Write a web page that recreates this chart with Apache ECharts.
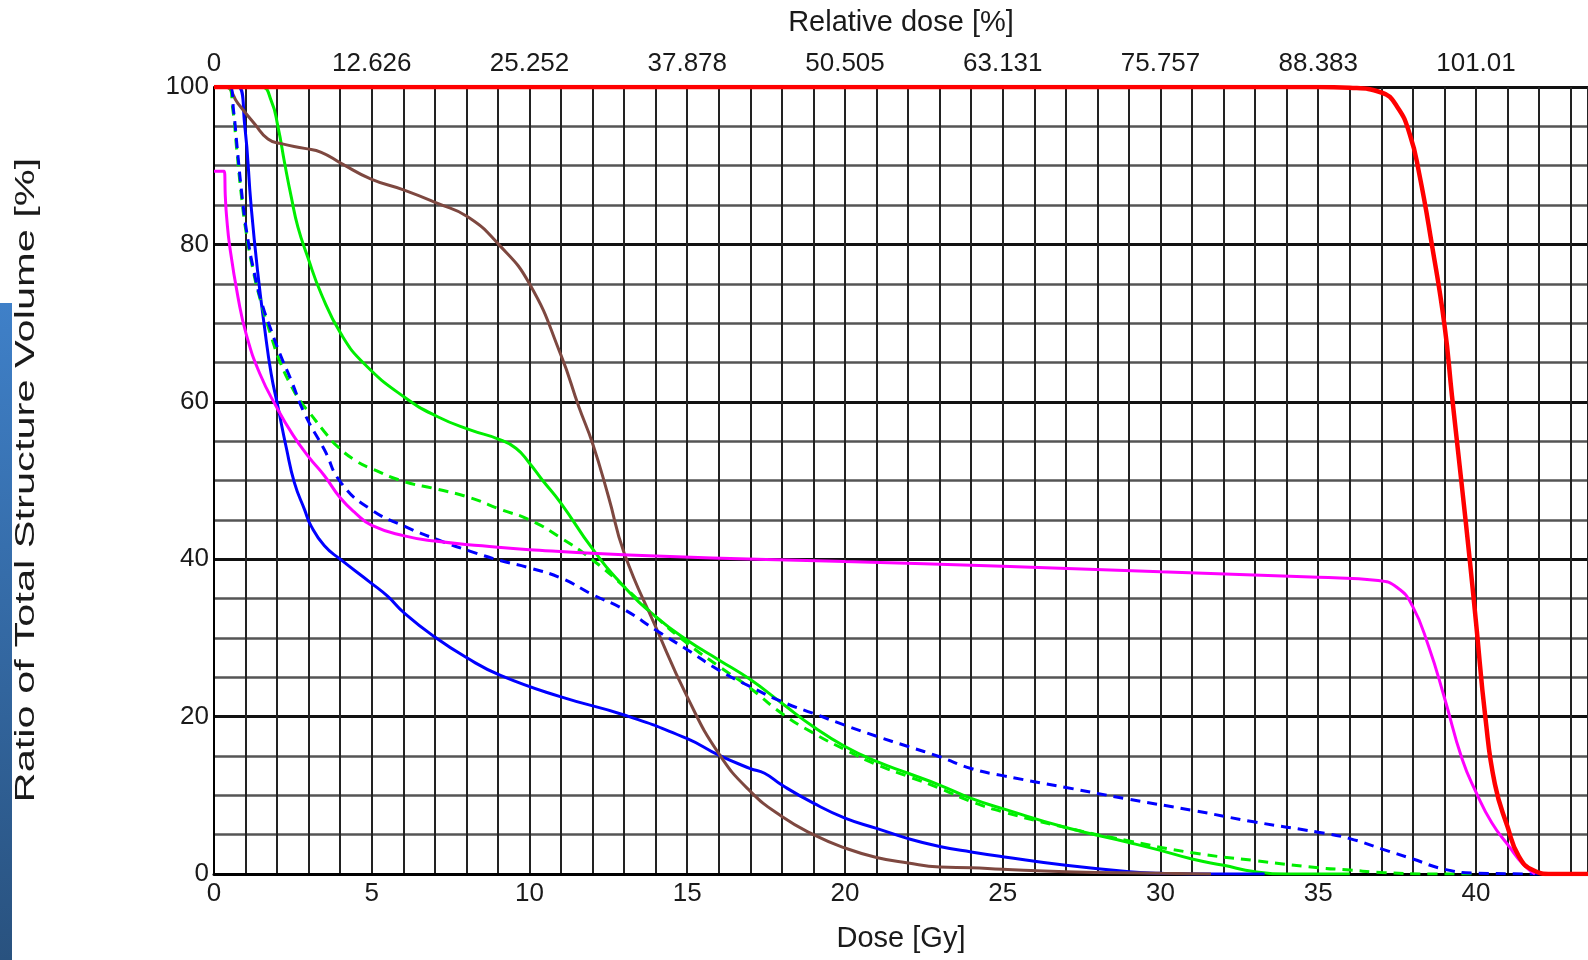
<!DOCTYPE html>
<html>
<head>
<meta charset="utf-8">
<script src="https://cdn.jsdelivr.net/npm/echarts@6/dist/echarts.min.js"></script>
<style>
html, body { margin: 0; padding: 0; background: #fff; }
#main { width: 1588px; height: 960px; }
</style>
</head>
<body>
<div id="main"></div>
<script>
// top axis labels (relative dose for 0,5,...,40 Gy)
var relDoseLabels = ['0', '12.626', '25.252', '37.878', '50.505', '63.131', '75.757', '88.383', '101.01'];

// red - PTV
var redDose = [0, 35, 36, 37, 37.5, 37.9, 38.2, 38.6, 39.0, 39.24, 39.56, 39.8, 40.0, 40.3, 40.6, 41.0, 41.35, 41.8, 42.4, 43.6];
var redVol  = [100, 100, 99.9, 99.3, 97.5, 94, 89, 80, 69.8, 60.7, 49, 40, 32, 19.8, 11.4, 6, 2.3, 0.5, 0, 0];

// magenta
var magDose = [0, 0.32, 0.36, 0.4, 0.5, 0.76, 1.02, 1.45, 2.0, 2.5, 3.0, 3.5, 4.0, 4.5, 5.0, 6.0, 7.0, 8.5, 10, 14, 20, 25, 30, 35, 36.9, 37.5, 37.98, 38.5, 39.0, 39.56, 40.0, 40.5, 41.03, 41.5, 41.87];
var magVol  = [89.3, 89.3, 86, 83.5, 79.7, 73.3, 68.6, 63.6, 59.2, 55.8, 53, 50.6, 47.8, 45.8, 44.3, 43.0, 42.3, 41.7, 41.2, 40.4, 39.7, 39.1, 38.4, 37.7, 37.3, 36.4, 34.1, 28.9, 22.4, 14.6, 10.4, 6.5, 3.6, 1.2, 0];

// blue solid
var blueDose = [0, 0.76, 0.97, 1.18, 1.39, 1.6, 1.81, 2.03, 2.29, 2.55, 2.87, 3.08, 3.5, 4.0, 4.97, 5.5, 6.02, 7.0, 8.0, 9.1, 11, 13, 15, 16, 17, 17.45, 18, 19, 20, 21, 22, 23, 24, 25, 27, 29, 30, 31, 33.3];
var blueVol  = [100, 100, 95.3, 84.7, 76.3, 69.5, 63.6, 59.3, 54.2, 49.7, 46.3, 44.2, 41.7, 40.0, 37.0, 35.3, 33.2, 30.1, 27.5, 25.2, 22.5, 20.2, 17.2, 15.1, 13.4, 12.8, 11.3, 9.0, 7.1, 5.8, 4.5, 3.5, 2.8, 2.2, 1.1, 0.3, 0.1, 0, 0];

// blue dashed
var blueDashDose = [0, 0.5, 0.62, 0.73, 0.88, 1.04, 1.27, 1.52, 1.82, 2.1, 2.45, 2.87, 3.5, 4.03, 4.98, 6.03, 7.07, 8.13, 9.1, 10, 11, 12, 13, 14, 15, 16, 17, 18, 19, 20, 21, 22, 23, 24, 25, 27, 29, 31, 33, 35, 36, 37, 38, 39, 40, 42.1];
var blueDashVol  = [100, 100, 97, 92.5, 86.5, 81.5, 76.5, 72.5, 69, 66, 62.7, 58.5, 53.9, 49.7, 46.3, 44.2, 42.5, 41.0, 39.8, 38.9, 37.6, 35.5, 33.6, 31.0, 28.5, 25.9, 23.8, 21.9, 20.4, 18.9, 17.5, 16.2, 14.9, 13.4, 12.5, 11.0, 9.5, 8.1, 6.6, 5.3, 4.5, 3.2, 1.9, 0.6, 0.1, 0];

// green solid
var greenDose = [0, 1.5, 1.81, 2.03, 2.24, 2.45, 2.66, 2.97, 3.4, 4.03, 4.77, 6.03, 7.09, 8.14, 8.99, 9.57, 10, 10.4, 11, 12, 13, 14, 15, 16, 17, 18, 19, 20, 21, 22, 23, 24, 25, 27, 29, 30, 31, 32, 33, 34, 36];
var greenVol  = [100, 100, 98.3, 94.9, 90.3, 86, 82.2, 78.4, 73.7, 68.6, 64.8, 60.6, 58.1, 56.4, 55.3, 54.1, 52.2, 50.1, 47.1, 41.3, 36.5, 32.7, 29.7, 27.2, 24.7, 21.7, 18.7, 16.2, 14.3, 12.8, 11.3, 9.6, 8.3, 5.9, 4.0, 3.0, 1.9, 1.1, 0.3, 0, 0];

// green dashed
var greenDashDose = [0, 0.44, 0.6, 0.71, 0.86, 1.02, 1.25, 1.5, 1.8, 2.1, 2.45, 2.75, 3.03, 3.5, 3.92, 4.5, 5.0, 6.0, 7.07, 8.13, 9.1, 10, 11, 12, 13, 14, 15, 16, 17, 18, 19, 20, 21, 22, 23, 24, 25, 27, 29, 31, 33, 35, 36, 37, 38.5, 40];
var greenDashVol  = [100, 100, 97, 92.5, 86.5, 81.5, 76.5, 72.5, 68.5, 65, 62, 60, 58.6, 56.2, 54.3, 52.5, 51.5, 49.9, 48.9, 47.8, 46.3, 45, 42.7, 39.9, 36.5, 32.7, 29.3, 26.4, 23.6, 20.4, 17.9, 15.8, 13.9, 12.4, 10.9, 9.2, 7.9, 5.9, 4.2, 2.7, 1.7, 0.8, 0.5, 0.2, 0, 0];

// brown
var brownDose = [0, 0.35, 0.76, 1.29, 1.71, 2.13, 2.87, 3.4, 4.03, 4.98, 6.03, 7.09, 8.04, 9.0, 10, 11, 11.56, 12, 12.5, 13, 14, 15, 16, 17, 18, 19, 20, 21, 22, 23, 24, 25, 27, 30, 31.6];
var brownVol  = [100, 100, 97.9, 95.3, 93.4, 92.8, 92.2, 91.7, 90.3, 88.3, 86.9, 85.2, 83.5, 80.1, 75, 65.9, 59.4, 54.7, 48, 40.8, 31.4, 22.5, 15.3, 10.5, 7.3, 5.0, 3.3, 2.1, 1.4, 0.9, 0.8, 0.6, 0.3, 0.1, 0];

function pairs(xs, ys) {
    var out = [];
    for (var i = 0; i < xs.length; i++) {
        out.push([xs[i], ys[i]]);
    }
    return out;
}

var labelFont = "'Liberation Sans', Arial, sans-serif";
var xMax = 43.55;

function curve(name, xs, ys, color, width, dashed) {
    return {
        name: name,
        type: 'line',
        data: pairs(xs, ys),
        symbol: 'none',
        smooth: 0.5,
        lineStyle: { color: color, width: width, type: dashed ? [10, 7] : 'solid' },
        xAxisIndex: 0,
        yAxisIndex: 0
    };
}

var myChart = echarts.init(document.getElementById('main'));
var option = {
    animation: false,
    backgroundColor: '#fff',
    grid: { left: 214, right: 0, top: 87, bottom: 86, outerBoundsMode: 'none', containLabel: false },
    xAxis: [{
        type: 'value',
        position: 'bottom',
        min: 0,
        max: xMax,
        interval: 1,
        name: 'Dose [Gy]',
        nameLocation: 'middle',
        nameGap: 50,
        nameTextStyle: { fontFamily: labelFont, fontSize: 29, color: '#1a1a1a' },
        axisLine: { show: true, onZero: false, lineStyle: { color: '#000', width: 3 } },
        axisTick: { show: false },
        axisLabel: {
            fontFamily: labelFont, fontSize: 26, color: '#1a1a1a', margin: 7,
            formatter: function (v) { return v % 5 === 0 ? String(v) : ''; }
        },
        splitLine: { show: true, lineStyle: { color: '#222', width: 2 } }
    }, {
        type: 'value',
        position: 'top',
        min: 0,
        max: xMax,
        interval: 1,
        name: 'Relative dose [%]',
        nameLocation: 'middle',
        nameGap: 50,
        nameTextStyle: { fontFamily: labelFont, fontSize: 29, color: '#1a1a1a' },
        axisLine: { show: false },
        axisTick: { show: false },
        axisLabel: {
            fontFamily: labelFont, fontSize: 26, color: '#1a1a1a', margin: 10,
            formatter: function (v) { return v % 5 === 0 ? relDoseLabels[v / 5] : ''; }
        },
        splitLine: { show: false }
    }],
    yAxis: [{
        type: 'value',
        min: 0,
        max: 100,
        interval: 20,
        axisLine: { show: true, onZero: false, lineStyle: { color: '#000', width: 2 } },
        axisTick: { show: false },
        axisLabel: { fontFamily: labelFont, fontSize: 26, color: '#1a1a1a', margin: 5 },
        splitLine: { show: true, lineStyle: { color: '#111', width: 3 } },
        minorTick: { show: false, splitNumber: 4 },
        minorSplitLine: { show: true, lineStyle: { color: '#555', width: 2.5 } }
    }],
    graphic: [{
        type: 'rect',
        shape: { x: 0, y: 303, width: 12, height: 657 },
        style: {
            fill: new echarts.graphic.LinearGradient(0, 0, 0, 1, [
                { offset: 0, color: '#3f80c8' },
                { offset: 1, color: '#29527f' }
            ])
        },
        z: -1
    }, {
        type: 'text',
        x: 27,
        y: 480,
        rotation: Math.PI / 2,
        scaleX: 1.54,
        style: {
            text: 'Ratio of Total Structure Volume [%]',
            font: 'normal 27px "Liberation Sans", Arial, sans-serif',
            fill: '#1a1a1a',
            align: 'center',
            verticalAlign: 'middle'
        }
    }],
    series: [
        curve('green solid', greenDose, greenVol, '#00ee00', 3, false),
        curve('blue solid', blueDose, blueVol, '#0000ff', 3, false),
        curve('brown', brownDose, brownVol, '#7e4840', 3, false),
        curve('green dashed', greenDashDose, greenDashVol, '#00ee00', 3, true),
        curve('blue dashed', blueDashDose, blueDashVol, '#0000ff', 3, true),
        curve('magenta', magDose, magVol, '#ff00ff', 3, false),
        curve('red', redDose, redVol, '#ff0000', 4.5, false)
    ]
};
myChart.setOption(option, true);
</script>
</body>
</html>
